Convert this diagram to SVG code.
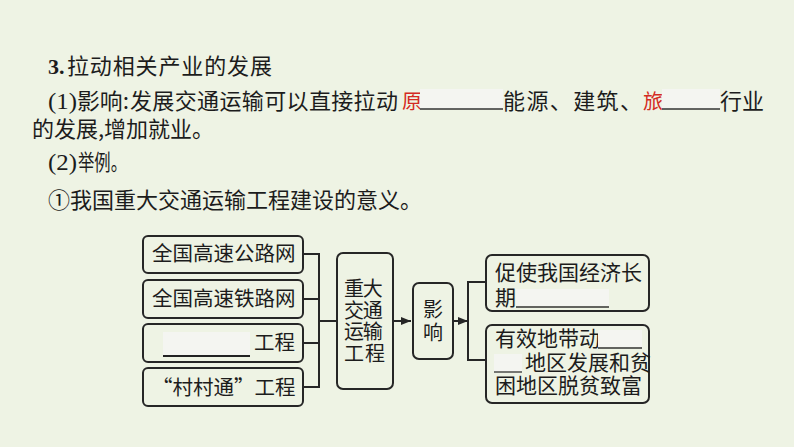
<svg xmlns="http://www.w3.org/2000/svg" width="794" height="447" viewBox="0 0 794 447">
<defs>
<style>
.t{font-family:"Noto Sans CJK SC","Noto Sans",sans-serif;fill:#1c1c1c}
.s{font-family:"Liberation Serif",serif;fill:#1c1c1c}
.red{fill:#d42a22}
.box{fill:none;stroke:#262626;stroke-width:2}
.ln{fill:none;stroke:#262626;stroke-width:2}
.ul{stroke:#333;stroke-width:1.3}
.bl{fill:#f4f5f1}
</style>
<marker id="ah" markerWidth="10" markerHeight="8" refX="10" refY="4" orient="auto" markerUnits="userSpaceOnUse">
<path d="M0,0 L10,4 L0,8 Z" fill="#262626"/>
</marker>
</defs>
<rect width="794" height="447" fill="#eef3e4"/>

<g id="text-lines">
<text x="48" y="74" font-size="22" class="s" font-weight="bold">3.</text>
<text x="67" y="74" font-size="22" class="t" textLength="205" lengthAdjust="spacing">拉动相关产业的发展</text>
<text x="48" y="109" font-size="24" class="s" textLength="29" lengthAdjust="spacingAndGlyphs">(1)</text>
<text x="77" y="109" font-size="22" class="t" textLength="52" lengthAdjust="spacingAndGlyphs">影响:</text>
<text x="130" y="109" font-size="22" class="t" textLength="268" lengthAdjust="spacing">发展交通运输可以直接拉动</text>
<text x="402" y="109" font-size="20" class="t red">原</text>
<rect class="bl" x="420" y="89" width="83" height="20"/>
<line class="ul" x1="420" y1="109" x2="503" y2="109"/>
<text x="503" y="109" font-size="22" class="t" textLength="139" lengthAdjust="spacing">能源、建筑、</text>
<text x="643" y="109" font-size="20" class="t red">旅</text>
<rect class="bl" x="662" y="89" width="58" height="20"/>
<line class="ul" x1="662" y1="109" x2="720" y2="109"/>
<text x="720" y="109" font-size="22" class="t">行业</text>
<text x="32" y="137" font-size="22" class="t">的发展,增加就业。</text>
<text x="48" y="170" font-size="24" class="s" textLength="29" lengthAdjust="spacingAndGlyphs">(2)</text>
<text x="78" y="170" font-size="22" class="t" textLength="49" lengthAdjust="spacingAndGlyphs">举例。</text>
<text x="48" y="208" font-size="22" class="t">①我国重大交通运输工程建设的意义。</text>
</g>

<g id="connectors">
<path class="ln" d="M303,254 H319 M303,299 H319 M303,343 H319 M303,387 H319 M319,253 V388 M319,321 H337"/>
<line class="ln" x1="393" y1="321" x2="411" y2="321" marker-end="url(#ah)"/>
<line class="ln" x1="453" y1="321" x2="468" y2="321" marker-end="url(#ah)"/>
<path class="ln" d="M486,282 H468 V360 H486"/>
</g>

<g id="node-gaosugonglu">
<rect class="box" x="143" y="236" width="160" height="37" rx="5"/>
<text x="152" y="261" font-size="20.5" class="t">全国高速公路网</text>
</g>
<g id="node-gaosutielu">
<rect class="box" x="143" y="280" width="160" height="38" rx="5"/>
<text x="152" y="306" font-size="20.5" class="t">全国高速铁路网</text>
</g>
<g id="node-gongcheng">
<rect class="box" x="143" y="324" width="160" height="38" rx="5"/>
<rect class="bl" x="163" y="332" width="87" height="23"/>
<line x1="163" y1="356" x2="250" y2="356" stroke="#222" stroke-width="2"/>
<text x="254" y="350" font-size="20.5" class="t">工程</text>
</g>
<g id="node-cuncuntong">
<rect class="box" x="143" y="368" width="160" height="38" rx="5"/>
<text x="152" y="395" font-size="20.5" class="t">“村村通”工程</text>
</g>
<g id="node-zhongda">
<rect class="box" x="337" y="253" width="56" height="136" rx="6"/>
<text font-size="20" class="t" text-anchor="middle">
<tspan x="354" y="296">重</tspan><tspan x="375" y="296">大</tspan>
<tspan x="354" y="318">交</tspan><tspan x="375" y="318">通</tspan>
<tspan x="354" y="339">运</tspan><tspan x="375" y="339">输</tspan>
<tspan x="354" y="361">工</tspan><tspan x="375" y="361">程</tspan>
</text>
</g>
<g id="node-yingxiang">
<rect class="box" x="413" y="283" width="40" height="76" rx="6"/>
<text font-size="20" class="t" text-anchor="middle">
<tspan x="433" y="317">影</tspan><tspan x="433" y="340">响</tspan>
</text>
</g>
<g id="node-jingji">
<rect class="box" x="486" y="255" width="163" height="56" rx="6"/>
<text x="495" y="280" font-size="21" class="t">促使我国经济长</text>
<text x="495" y="305" font-size="21" class="t">期</text>
<rect class="bl" x="516" y="289" width="93" height="17"/>
<line class="ul" x1="516" y1="307" x2="609" y2="307"/>
</g>
<g id="node-daidong">
<rect class="box" x="486" y="325" width="163" height="78" rx="6"/>
<text x="495" y="346" font-size="21" class="t">有效地带动</text>
<rect class="bl" x="598" y="330" width="44" height="17"/>
<line class="ul" x1="598" y1="348" x2="642" y2="348"/>
<rect class="bl" x="494" y="354" width="28" height="17"/>
<line class="ul" x1="494" y1="372" x2="522" y2="372"/>
<text x="525" y="370" font-size="21" class="t">地区发展和贫</text>
<text x="495" y="393" font-size="21" class="t">困地区脱贫致富</text>
</g>
</svg>
